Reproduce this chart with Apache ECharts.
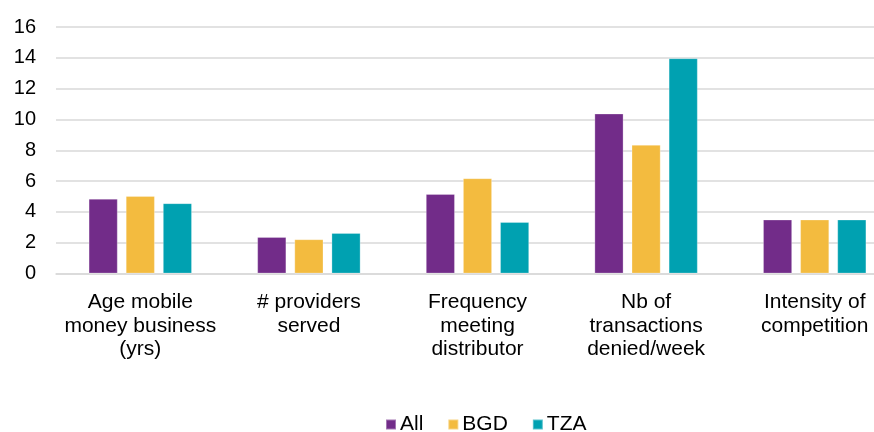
<!DOCTYPE html>
<html>
<head>
<meta charset="utf-8">
<script src="https://cdn.jsdelivr.net/npm/echarts@6/dist/echarts.min.js"></script>
<style>html,body{margin:0;padding:0;background:#fff}#c{width:874px;height:432px}</style>
</head>
<body>
<div id="c"></div>
<script>
var categories = ["Age mobile\nmoney business\n(yrs)", "# providers\nserved", "Frequency\nmeeting\ndistributor", "Nb of\ntransactions\ndenied/week", "Intensity of\ncompetition"];
var seriesNames = ["All", "BGD", "TZA"];
var allValues = [4.85, 2.37, 5.16, 10.38, 3.5];
var bgdValues = [5.03, 2.22, 6.18, 8.35, 3.5];
var tzaValues = [4.56, 2.63, 3.34, 13.97, 3.5];
var yTicks = [0, 2, 4, 6, 8, 10, 12, 14, 16];
var colors = ["#722C89", "#F3BB3F", "#00A1B1"];

var chart = echarts.init(document.getElementById('c'), null, {renderer: 'canvas'});
var font = "Liberation Sans, Arial, sans-serif";
function mk(name, data, i) {
  return {
    name: name, type: 'bar', data: data, barWidth: 29, barGap: '28%',
    itemStyle: {color: colors[i], borderColor: 'rgba(255,255,255,0.35)', borderWidth: 0.8},
    animation: false
  };
}
chart.setOption({
  animation: false,
  color: colors,
  grid: {left: 56, width: 843, top: 27, bottom: 158.5, containLabel: false, outerBoundsMode: 'none'},
  legend: {
    data: seriesNames, left: 380, top: 409,
    itemWidth: 10, itemHeight: 10, itemGap: 24,
    icon: 'rect',
    textStyle: {fontFamily: font, fontSize: 21, color: '#000', padding: [0, 0, 0, -1]}
  },
  xAxis: {
    type: 'category', data: categories,
    axisLine: {lineStyle: {color: '#d9d9d9', width: 1.5}},
    axisTick: {show: false},
    axisLabel: {fontFamily: font, fontSize: 21, color: '#000', lineHeight: 23.5, margin: 17, interval: 0, align: 'center'}
  },
  yAxis: {
    type: 'value', min: yTicks[0], max: yTicks[yTicks.length - 1], interval: 2,
    axisLine: {show: false}, axisTick: {show: false},
    splitLine: {lineStyle: {color: '#d9d9d9', width: 1.5}},
    axisLabel: {fontFamily: font, fontSize: 20, color: '#000', margin: 20,
      formatter: function (v) { return yTicks.indexOf(v) >= 0 ? String(v) : ''; }}
  },
  series: [mk(seriesNames[0], allValues, 0), mk(seriesNames[1], bgdValues, 1), mk(seriesNames[2], tzaValues, 2)]
});
</script>
</body>
</html>
